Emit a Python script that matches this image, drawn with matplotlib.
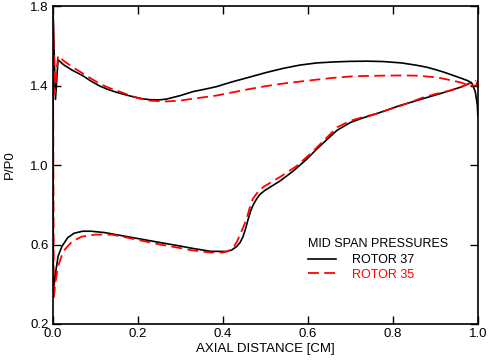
import matplotlib

matplotlib.use("Agg")
import matplotlib.pyplot as plt

plt.rcParams["font.family"] = ["Liberation Sans", "DejaVu Sans"]

# ---- mid-span static pressure ratio ----
# rotor 37 (solid black): upper branch LE -> TE, lower branch LE -> TE
x37_up = [0.0, 0.006, 0.012, 0.025, 0.045, 0.07, 0.09, 0.11, 0.13, 0.15,
          0.17, 0.19, 0.21, 0.228, 0.25, 0.267, 0.30, 0.33, 0.36, 0.385,
          0.42, 0.463, 0.50, 0.54, 0.58, 0.62, 0.66, 0.70, 0.74, 0.777,
          0.82, 0.856, 0.88, 0.90, 0.92, 0.94, 0.96, 0.975, 0.985, 0.993,
          0.998, 0.999]
p37_up = [1.80, 1.33, 1.53, 1.505, 1.478, 1.45, 1.422, 1.398, 1.38, 1.366,
          1.354, 1.343, 1.334, 1.329, 1.328, 1.332, 1.35, 1.37, 1.383, 1.395,
          1.418, 1.443, 1.465, 1.486, 1.503, 1.514, 1.519, 1.522, 1.523, 1.521,
          1.514, 1.502, 1.492, 1.48, 1.467, 1.452, 1.437, 1.425, 1.412, 1.37,
          1.30, 1.25]
x37_lo = [0.0, 0.001, 0.005, 0.012, 0.021, 0.035, 0.05, 0.07, 0.09, 0.122,
          0.174, 0.252, 0.30, 0.33, 0.37, 0.408, 0.42, 0.432, 0.44, 0.447,
          0.453, 0.459, 0.465, 0.471, 0.479, 0.487, 0.498, 0.51, 0.534, 0.565,
          0.597, 0.62, 0.645, 0.668, 0.70, 0.73, 0.76, 0.79, 0.816, 0.845,
          0.87, 0.90, 0.934, 0.96, 0.983]
p37_lo = [1.80, 0.36, 0.44, 0.54, 0.59, 0.635, 0.657, 0.667, 0.667, 0.66,
          0.64, 0.61, 0.592, 0.58, 0.566, 0.565, 0.572, 0.59, 0.61, 0.64,
          0.68, 0.727, 0.77, 0.80, 0.83, 0.853, 0.872, 0.888, 0.92, 0.97,
          1.03, 1.08, 1.13, 1.175, 1.215, 1.238, 1.258, 1.28, 1.30, 1.318,
          1.334, 1.353, 1.375, 1.393, 1.415]

# rotor 35 (dashed red)
x35_up = [0.0, 0.004, 0.012, 0.025, 0.045, 0.071, 0.09, 0.11, 0.13, 0.15,
          0.175, 0.205, 0.228, 0.267, 0.30, 0.33, 0.385, 0.42, 0.463, 0.50,
          0.54, 0.58, 0.62, 0.66, 0.70, 0.74, 0.777, 0.82, 0.856, 0.90,
          0.934, 0.96, 0.98, 0.995, 1.0]
p35_up = [1.80, 1.36, 1.55, 1.525, 1.495, 1.46, 1.435, 1.41, 1.39, 1.375,
          1.355, 1.334, 1.324, 1.32, 1.325, 1.334, 1.35, 1.365, 1.383, 1.397,
          1.41, 1.42, 1.43, 1.439, 1.446, 1.449, 1.45, 1.451, 1.45, 1.442,
          1.428, 1.415, 1.40, 1.40, 1.43]
x35_lo = [0.0, 0.002, 0.006, 0.012, 0.02, 0.028, 0.045, 0.068, 0.099, 0.138,
          0.174, 0.252, 0.30, 0.33, 0.37, 0.40, 0.413, 0.424, 0.433, 0.44,
          0.448, 0.455, 0.462, 0.47, 0.482, 0.495, 0.514, 0.534, 0.573, 0.61,
          0.64, 0.668, 0.70, 0.73, 0.76, 0.79, 0.82, 0.87, 0.90, 0.934,
          0.965, 0.995]
p35_lo = [1.80, 0.33, 0.41, 0.49, 0.54, 0.575, 0.615, 0.64, 0.65, 0.65,
          0.635, 0.60, 0.582, 0.57, 0.56, 0.56, 0.568, 0.585, 0.615, 0.65,
          0.69, 0.727, 0.78, 0.83, 0.865, 0.89, 0.915, 0.94, 0.995, 1.066,
          1.13, 1.19, 1.223, 1.242, 1.258, 1.28, 1.30, 1.34, 1.358, 1.375,
          1.398, 1.425]

X_TICKS = [0.0, 0.2, 0.4, 0.6, 0.8, 1.0]
Y_TICKS = [0.2, 0.6, 1.0, 1.4, 1.8]


def main():
    fig = plt.figure(figsize=(4.9, 3.6), dpi=100)
    ax = fig.add_axes([0.108, 0.10, 0.868, 0.883])

    ax.plot(x37_up, p37_up, color="black", lw=1.2, label="ROTOR 37")
    ax.plot(x37_lo, p37_lo, color="black", lw=1.2)
    l35, = ax.plot(x35_up, p35_up, color="red", lw=1.3, label="ROTOR 35")
    l35b, = ax.plot(x35_lo, p35_lo, color="red", lw=1.3)
    for ln in (l35, l35b):
        ln.set_dashes([6, 3])

    ax.set_xlim(0, 1.0)
    ax.set_ylim(0.2, 1.8)
    ax.set_xticks(X_TICKS)
    ax.set_yticks(Y_TICKS)
    ax.tick_params(direction="in", length=6, width=1, top=True, right=True,
                   labelsize=9.5, pad=3)
    for s in ax.spines.values():
        s.set_linewidth(1.2)
    ax.set_xlabel("AXIAL DISTANCE [CM]", fontsize=9.5, labelpad=2)
    ax.set_ylabel("P/P0", fontsize=9.5, labelpad=10)

    leg = ax.legend(loc="upper left", bbox_to_anchor=(0.586, 0.29), frameon=False,
                    title="MID SPAN PRESSURES", alignment="left", fontsize=9,
                    title_fontsize=9, handlelength=2.2, handletextpad=1.3,
                    borderpad=0, labelspacing=0.2, labelcolor=["black", "red"])
    leg._legend_box.sep = 3

    fig.savefig("out.png", dpi=100)
    plt.close(fig)


if __name__ == "__main__":
    main()
